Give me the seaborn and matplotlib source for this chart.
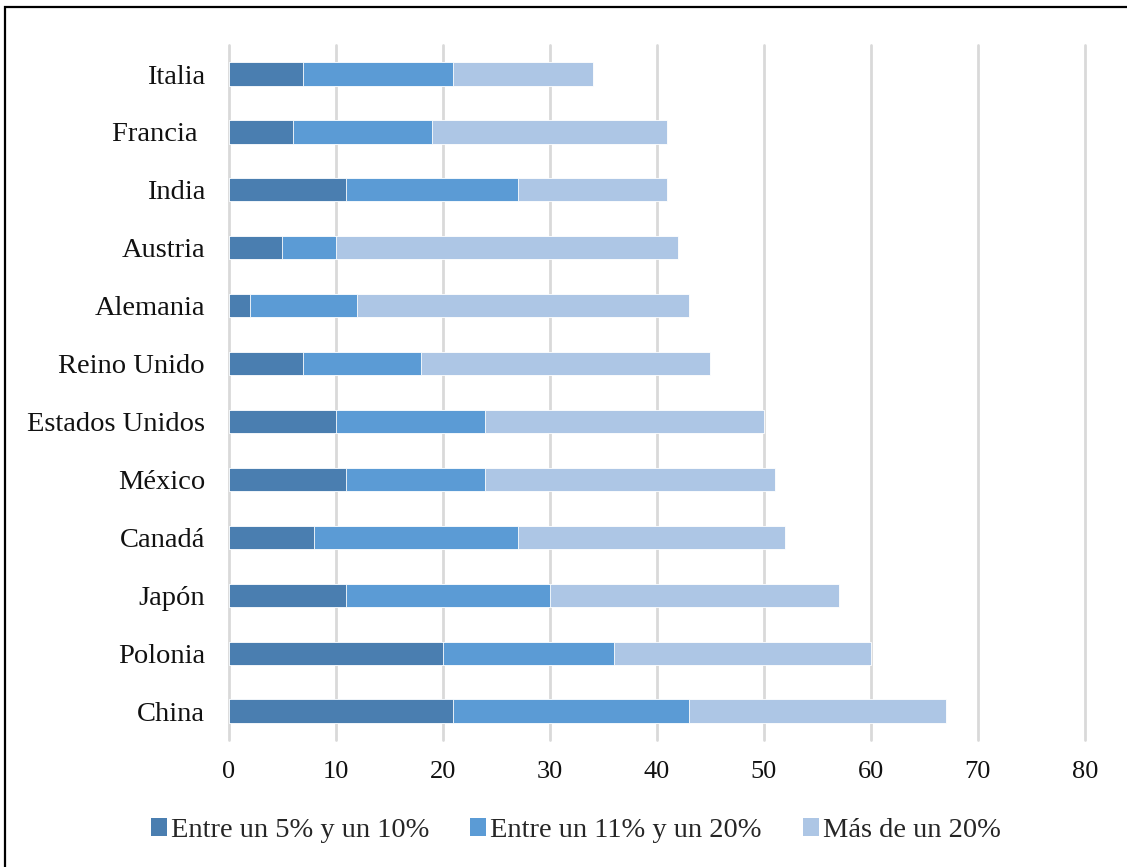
import matplotlib
matplotlib.use("Agg")
import matplotlib.pyplot as plt
import matplotlib.patches as mpatches
import seaborn as sns
import pandas as pd

# Countries, listed top to bottom
paises = ["Italia", "Francia ", "India", "Austria", "Alemania", "Reino Unido",
          "Estados Unidos", "México", "Canadá", "Japón", "Polonia", "China"]

# Share of companies in each band
entre_5_10 = [7, 6, 11, 5, 2, 7, 10, 11, 8, 11, 20, 21]
entre_11_20 = [14, 13, 16, 5, 10, 11, 14, 13, 19, 19, 16, 22]
mas_de_20 = [13, 22, 14, 32, 31, 27, 26, 27, 25, 27, 24, 24]

series = ["Entre un 5% y un 10%", "Entre un 11% y un 20%", "Más de un 20%"]
colores = ["#4A7EB0", "#5B9BD5", "#ADC6E5"]
ticks_x = [0, 10, 20, 30, 40, 50, 60, 70, 80]

sns.set_theme(style="white")
plt.rcParams["font.family"] = ["Liberation Serif", "DejaVu Serif"]

df = pd.DataFrame({
    "pais": paises,
    "s1": entre_5_10,
    "s2": entre_11_20,
    "s3": mas_de_20,
})
df["c1"] = df["s1"]
df["c2"] = df["s1"] + df["s2"]
df["c3"] = df["s1"] + df["s2"] + df["s3"]

fig = plt.figure(figsize=(11.27, 8.67), dpi=100)
ax = fig.add_axes([0.2028, 0.1465, 0.7599, 0.8015])

# Stacked bars: draw cumulative totals back to front
for col, color in zip(["c3", "c2", "c1"], colores[::-1]):
    sns.barplot(data=df, y="pais", x=col, order=paises, color=color,
                width=0.4, orient="h", ax=ax, saturation=1,
                edgecolor="white", linewidth=0.6)

ax.set_xlim(0, 80)
ax.set_ylim(len(paises) - 0.5, -0.5)
ax.set_xticks(ticks_x)
ax.set_xticklabels([str(t) for t in ticks_x])
ax.set_xlabel("")
ax.set_ylabel("")
ax.grid(axis="x", color="#D9D9D9", linewidth=2)
ax.grid(axis="y", visible=False)
for gl in ax.get_xgridlines():
    gl.set_clip_on(False)
ax.set_axisbelow(True)
for s in ax.spines.values():
    s.set_visible(False)
ax.tick_params(axis="y", length=0, pad=17, labelsize=20.5, labelcolor="#111111")
ax.tick_params(axis="x", length=0, pad=15, labelsize=19, labelcolor="#111111")

handles = [mpatches.Patch(facecolor=c, edgecolor="none", label=l)
           for c, l in zip(colores, series)]
fig.legend(handles=handles, loc="center", bbox_to_anchor=(0.511, 0.042),
           ncol=3, frameon=False, fontsize=20.5, handlelength=0.55,
           handleheight=0.55, handletextpad=0.15, columnspacing=1.45)

# Outer frame of the figure
fig.add_artist(mpatches.Rectangle((0.0045, -0.05), 1.2, 1.042,
                                  transform=fig.transFigure, fill=False,
                                  edgecolor="black", linewidth=1.6))

fig.savefig("out.png", dpi=100)
